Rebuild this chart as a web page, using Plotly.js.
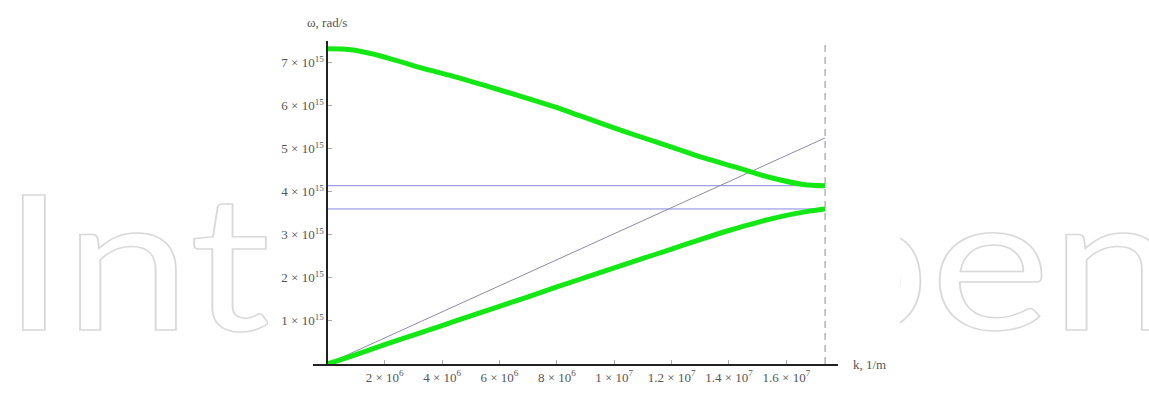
<!DOCTYPE html>
<html>
<head>
<meta charset="utf-8">
<script src="https://cdn.plot.ly/plotly-3.0.1.min.js"></script>
<style>
  html, body { margin: 0; padding: 0; background: #ffffff; }
  #stage { position: relative; width: 1149px; height: 403px; overflow: hidden; }
  #mark { position: absolute; left: 0; top: 0; }
  #panel { position: absolute; left: 268px; top: 0; width: 632px; height: 403px; background: #ffffff; }
  #chart { position: absolute; left: 0; top: 0; width: 1149px; height: 403px; }
</style>
</head>
<body>
<div id="stage">
  <svg id="mark" width="1149" height="403">
    <text x="2" y="330" textLength="1175" lengthAdjust="spacingAndGlyphs"
          style="font-family: Lato, 'Open Sans', sans-serif; font-size: 188px; fill: none; stroke: #d9d9d9; stroke-width: 1.5;">IntechOpen</text>
  </svg>
  <div id="panel"></div>
  <div id="chart"></div>
</div>
<script>
// Dispersion curves: wavenumber k (1/m) versus angular frequency ω (rad/s)
const kUpper = [0, 0.91e6, 2.09e6, 3.24e6, 4.39e6, 5.57e6, 6.72e6, 7.87e6, 8.82e6, 9.62e6,
                10.80e6, 11.95e6, 13.10e6, 14.29e6, 15.44e6, 16.59e6, 17.35e6];
const wUpper = [7.32e15, 7.29e15, 7.11e15, 6.88e15, 6.68e15, 6.45e15, 6.22e15, 5.98e15, 5.76e15, 5.57e15,
                5.30e15, 5.05e15, 4.79e15, 4.56e15, 4.33e15, 4.17e15, 4.14e15];

const kLower = [0, 1e6, 2e6, 3e6, 4e6, 5e6, 6e6, 7e6, 8e6, 9e6, 10e6, 11e6, 12e6, 13e6,
                14e6, 15e6, 16e6, 16.8e6, 17.35e6];
const wLower = [0, 0.22e15, 0.45e15, 0.67e15, 0.89e15, 1.12e15, 1.34e15, 1.56e15, 1.79e15, 2.01e15,
                2.23e15, 2.45e15, 2.67e15, 2.89e15, 3.10e15, 3.29e15, 3.45e15, 3.55e15, 3.60e15];

// Light line and the two band-edge frequencies
const kLight = [0, 17.35e6];
const wLight = [0, 5.25e15];
const kEdge = 17.35e6;
const bandTop = 4.14e15;
const bandBottom = 3.60e15;
const wMax = 7.5e15;

const xTickVals = [2e6, 4e6, 6e6, 8e6, 10e6, 12e6, 14e6, 16e6];
const xTickText = ['2 × 10<sup>6</sup>', '4 × 10<sup>6</sup>', '6 × 10<sup>6</sup>', '8 × 10<sup>6</sup>',
                   '1 × 10<sup>7</sup>', '1.2 × 10<sup>7</sup>', '1.4 × 10<sup>7</sup>', '1.6 × 10<sup>7</sup>'];
const yTickVals = [1e15, 2e15, 3e15, 4e15, 5e15, 6e15, 7e15];
const yTickText = ['1 × 10<sup>15</sup>', '2 × 10<sup>15</sup>', '3 × 10<sup>15</sup>', '4 × 10<sup>15</sup>',
                   '5 × 10<sup>15</sup>', '6 × 10<sup>15</sup>', '7 × 10<sup>15</sup>'];

const green = 'rgb(20,232,20)';
const blue = 'rgb(135,135,225)';

const traces = [
  { x: [kEdge, kEdge], y: [0, wMax], mode: 'lines',
    line: { color: 'rgb(140,140,140)', width: 1, dash: '7px,5px' } },
  { x: [0, kEdge], y: [bandTop, bandTop], mode: 'lines', line: { color: blue, width: 1 } },
  { x: [0, kEdge], y: [bandBottom, bandBottom], mode: 'lines', line: { color: blue, width: 1 } },
  { x: kLight, y: wLight, mode: 'lines', line: { color: 'rgb(140,140,160)', width: 1 } },
  { x: kUpper, y: wUpper, mode: 'lines', line: { color: green, width: 5, shape: 'spline' } },
  { x: kLower, y: wLower, mode: 'lines', line: { color: green, width: 5, shape: 'spline' } }
];

const serif = '"Liberation Serif", "DejaVu Serif", serif';
const tickFont = { family: serif, size: 13, color: '#555' };
const yPos = 0.5e6 / 18.3e6;

const layout = {
  width: 1149, height: 403,
  margin: { l: 313, r: 311, t: 41, b: 39 },
  paper_bgcolor: 'rgba(0,0,0,0)',
  plot_bgcolor: 'rgba(0,0,0,0)',
  showlegend: false,
  xaxis: {
    range: [-0.5e6, 17.8e6], showgrid: false, zeroline: false,
    showline: true, linecolor: '#222', linewidth: 2,
    tickmode: 'array', tickvals: xTickVals, ticktext: xTickText,
    ticks: 'inside', ticklen: 4, tickcolor: '#aaa', tickfont: tickFont
  },
  yaxis: {
    range: [0, wMax], showgrid: false, zeroline: false,
    anchor: 'free', position: yPos,
    showline: true, linecolor: '#222', linewidth: 2,
    tickmode: 'array', tickvals: yTickVals, ticktext: yTickText,
    ticks: 'inside', ticklen: 4, tickcolor: '#aaa', tickfont: tickFont
  },
  annotations: [
    { text: 'ω, rad/s', xref: 'paper', yref: 'paper', x: yPos, y: 1.056,
      xanchor: 'center', yanchor: 'middle', showarrow: false,
      font: { family: serif, size: 13, color: '#555' } },
    { text: 'k, 1/m', xref: 'paper', yref: 'paper', x: 1.024, y: 0,
      xanchor: 'left', yanchor: 'middle', showarrow: false,
      font: { family: serif, size: 13, color: '#555' } }
  ]
};

Plotly.newPlot('chart', traces, layout, { staticPlot: true, displayModeBar: false });
</script>
</body>
</html>
